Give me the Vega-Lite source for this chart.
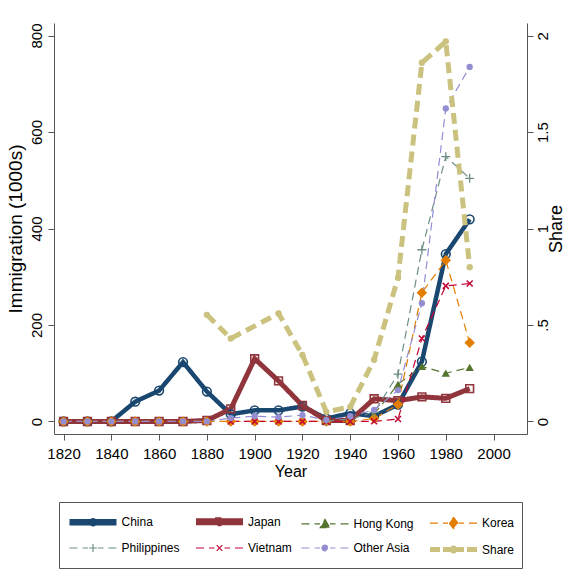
{
  "$schema": "https://vega.github.io/schema/vega-lite/v6.json",
  "width": 473,
  "height": 411,
  "autosize": {"type": "none"},
  "padding": {"left": 54, "top": 23, "right": 46, "bottom": 150},
  "background": "white",
  "config": {
    "font": "Liberation Sans",
    "view": {"stroke": null},
    "axis": {
      "grid": false,
      "domainColor": "#555555",
      "tickColor": "#555555",
      "labelColor": "#000000",
      "titleColor": "#000000",
      "labelFontSize": 15,
      "titleFontSize": 16,
      "titleFontWeight": "normal",
      "tickSize": 6,
      "labelFlush": false,
      "labelOverlap": false
    }
  },
  "data": {
    "values": [
      {"year": 1820, "series": "China", "value": 0},
      {"year": 1830, "series": "China", "value": 0},
      {"year": 1840, "series": "China", "value": 0},
      {"year": 1850, "series": "China", "value": 41},
      {"year": 1860, "series": "China", "value": 64},
      {"year": 1870, "series": "China", "value": 123},
      {"year": 1880, "series": "China", "value": 62},
      {"year": 1890, "series": "China", "value": 15},
      {"year": 1900, "series": "China", "value": 23},
      {"year": 1910, "series": "China", "value": 23},
      {"year": 1920, "series": "China", "value": 31},
      {"year": 1930, "series": "China", "value": 6},
      {"year": 1940, "series": "China", "value": 17},
      {"year": 1950, "series": "China", "value": 11},
      {"year": 1960, "series": "China", "value": 35},
      {"year": 1970, "series": "China", "value": 124},
      {"year": 1980, "series": "China", "value": 347},
      {"year": 1990, "series": "China", "value": 419},
      {"year": 1820, "series": "Japan", "value": 0},
      {"year": 1830, "series": "Japan", "value": 0},
      {"year": 1840, "series": "Japan", "value": 0},
      {"year": 1850, "series": "Japan", "value": 0},
      {"year": 1860, "series": "Japan", "value": 0},
      {"year": 1870, "series": "Japan", "value": 0},
      {"year": 1880, "series": "Japan", "value": 2},
      {"year": 1890, "series": "Japan", "value": 26},
      {"year": 1900, "series": "Japan", "value": 130},
      {"year": 1910, "series": "Japan", "value": 84},
      {"year": 1920, "series": "Japan", "value": 33},
      {"year": 1930, "series": "Japan", "value": 2},
      {"year": 1940, "series": "Japan", "value": 2},
      {"year": 1950, "series": "Japan", "value": 47},
      {"year": 1960, "series": "Japan", "value": 43},
      {"year": 1970, "series": "Japan", "value": 51},
      {"year": 1980, "series": "Japan", "value": 48},
      {"year": 1990, "series": "Japan", "value": 68},
      {"year": 1950, "series": "Hong Kong", "value": 15},
      {"year": 1960, "series": "Hong Kong", "value": 77},
      {"year": 1970, "series": "Hong Kong", "value": 114},
      {"year": 1980, "series": "Hong Kong", "value": 100},
      {"year": 1990, "series": "Hong Kong", "value": 112},
      {"year": 1820, "series": "Korea", "value": 0},
      {"year": 1830, "series": "Korea", "value": 0},
      {"year": 1840, "series": "Korea", "value": 0},
      {"year": 1850, "series": "Korea", "value": 0},
      {"year": 1860, "series": "Korea", "value": 0},
      {"year": 1870, "series": "Korea", "value": 0},
      {"year": 1880, "series": "Korea", "value": 0},
      {"year": 1890, "series": "Korea", "value": 0},
      {"year": 1900, "series": "Korea", "value": 0},
      {"year": 1910, "series": "Korea", "value": 0},
      {"year": 1920, "series": "Korea", "value": 0},
      {"year": 1930, "series": "Korea", "value": 0},
      {"year": 1940, "series": "Korea", "value": 0},
      {"year": 1950, "series": "Korea", "value": 6},
      {"year": 1960, "series": "Korea", "value": 35},
      {"year": 1970, "series": "Korea", "value": 267},
      {"year": 1980, "series": "Korea", "value": 334},
      {"year": 1990, "series": "Korea", "value": 163},
      {"year": 1930, "series": "Philippines", "value": 1},
      {"year": 1940, "series": "Philippines", "value": 5},
      {"year": 1950, "series": "Philippines", "value": 19},
      {"year": 1960, "series": "Philippines", "value": 98},
      {"year": 1970, "series": "Philippines", "value": 356},
      {"year": 1980, "series": "Philippines", "value": 549},
      {"year": 1990, "series": "Philippines", "value": 504},
      {"year": 1890, "series": "Vietnam", "value": 0},
      {"year": 1900, "series": "Vietnam", "value": 0},
      {"year": 1910, "series": "Vietnam", "value": 0},
      {"year": 1920, "series": "Vietnam", "value": 0},
      {"year": 1930, "series": "Vietnam", "value": 0},
      {"year": 1940, "series": "Vietnam", "value": 0},
      {"year": 1950, "series": "Vietnam", "value": 0.3},
      {"year": 1960, "series": "Vietnam", "value": 5},
      {"year": 1970, "series": "Vietnam", "value": 172},
      {"year": 1980, "series": "Vietnam", "value": 281},
      {"year": 1990, "series": "Vietnam", "value": 286},
      {"year": 1820, "series": "Other Asia", "value": 0},
      {"year": 1830, "series": "Other Asia", "value": 0},
      {"year": 1840, "series": "Other Asia", "value": 0},
      {"year": 1850, "series": "Other Asia", "value": 0},
      {"year": 1860, "series": "Other Asia", "value": 0},
      {"year": 1870, "series": "Other Asia", "value": 0},
      {"year": 1880, "series": "Other Asia", "value": 0},
      {"year": 1890, "series": "Other Asia", "value": 7},
      {"year": 1900, "series": "Other Asia", "value": 11},
      {"year": 1910, "series": "Other Asia", "value": 9},
      {"year": 1920, "series": "Other Asia", "value": 13},
      {"year": 1930, "series": "Other Asia", "value": 3},
      {"year": 1940, "series": "Other Asia", "value": 11},
      {"year": 1950, "series": "Other Asia", "value": 24},
      {"year": 1960, "series": "Other Asia", "value": 65},
      {"year": 1970, "series": "Other Asia", "value": 245},
      {"year": 1980, "series": "Other Asia", "value": 649},
      {"year": 1990, "series": "Other Asia", "value": 735},
      {"year": 1880, "series": "Share", "value": 0.553},
      {"year": 1890, "series": "Share", "value": 0.43},
      {"year": 1910, "series": "Share", "value": 0.56},
      {"year": 1920, "series": "Share", "value": 0.345},
      {"year": 1930, "series": "Share", "value": 0.05},
      {"year": 1940, "series": "Share", "value": 0.075},
      {"year": 1950, "series": "Share", "value": 0.32},
      {"year": 1960, "series": "Share", "value": 0.745},
      {"year": 1970, "series": "Share", "value": 1.86},
      {"year": 1980, "series": "Share", "value": 1.97},
      {"year": 1990, "series": "Share", "value": 0.8}
    ]
  },
  "encoding": {
    "x": {
      "field": "year",
      "type": "quantitative",
      "scale": {"domain": [1816, 2014], "nice": false, "zero": false},
      "axis": {
        "title": "Year",
        "values": [1820, 1840, 1860, 1880, 1900, 1920, 1940, 1960, 1980, 2000],
        "format": "d",
        "labelPadding": 6,
        "titlePadding": 2
      }
    },
    "color": {
      "field": "series",
      "type": "nominal",
      "scale": {
        "domain": ["China", "Japan", "Hong Kong", "Korea", "Philippines", "Vietnam", "Other Asia", "Share"],
        "range": ["#1a476f", "#90353b", "#55752f", "#e37e00", "#6e8e84", "#c10534", "#938dd2", "#cac27e"]
      },
      "legend": {
        "title": null,
        "orient": "none",
        "legendX": 5,
        "legendY": 479,
        "direction": "horizontal",
        "columns": 4,
        "symbolSize": 400,
        "symbolStrokeWidth": 1.3,
        "symbolOpacity": 1,
        "symbolOffset": 14.5,
        "labelOffset": 16,
        "columnPadding": 5.5,
        "rowPadding": 3,
        "padding": 7,
        "strokeColor": "#555555",
        "fillColor": "#ffffff",
        "labelFontSize": 12,
        "labelColor": "#000000",
        "labelLimit": 0
      }
    }
  },
  "layer": [
    {
      "transform": [{"filter": "datum.series !== 'Share'"}],
      "encoding": {
        "y": {
          "field": "value",
          "type": "quantitative",
          "scale": {"domain": [-26, 826], "nice": false, "zero": false},
          "axis": {
            "title": "Immigration (1000s)",
            "values": [0, 200, 400, 600, 800],
            "labelAngle": -90,
            "labelPadding": 4,
            "titlePadding": 4,
            "titleFontSize": 19
          }
        }
      },
      "layer": [
        {
          "mark": {"type": "line"},
          "encoding": {
            "strokeDash": {
              "field": "series",
              "type": "nominal",
              "legend": null,
              "scale": {
                "domain": ["China", "Japan", "Hong Kong", "Korea", "Philippines", "Vietnam", "Other Asia", "Share"],
                "range": [[1, 0], [1, 0], [8, 5], [8, 5], [8, 5], [8, 5], [8, 5], [11, 6]]
              }
            },
            "strokeWidth": {
              "field": "series",
              "type": "nominal",
              "legend": null,
              "scale": {
                "type": "ordinal",
                "domain": ["China", "Japan", "Hong Kong", "Korea", "Philippines", "Vietnam", "Other Asia", "Share"],
                "range": [4.5, 5, 1.2, 1.2, 1.2, 1.2, 1.2, 5]
              }
            }
          }
        },
        {
          "transform": [{"filter": "false"}],
          "mark": {"type": "point", "filled": true},
          "encoding": {
            "shape": {
              "field": "series",
              "type": "nominal",
              "scale": {
                "domain": ["China", "Japan", "Hong Kong", "Korea", "Philippines", "Vietnam", "Other Asia", "Share"],
                "range": [
                  "M-2.35,-0.1H2.35M-2.35,0.1H2.35M-0.2,0A0.2,0.2 0 1,1 0.2,0A0.2,0.2 0 1,1 -0.2,0Z",
                  "M-2.35,-0.1H2.35M-2.35,0.1H2.35M-0.2,-0.2H0.2V0.2H-0.2Z",
                  "M-2.35,0H-1.55M-1.05,0H-0.5M0.5,0H1.05M1.55,0H2.35M0,-0.45L0.48,0.38L-0.48,0.38Z",
                  "M-2.35,0H-1.55M-1.05,0H-0.55M0.55,0H1.05M1.55,0H2.35M0,-0.55L0.45,0L0,0.55L-0.45,0Z",
                  "M-2.35,0H-1.55M-1.05,0H-0.5M0.5,0H1.05M1.55,0H2.35M-0.4,0H0.4M0,-0.4V0.4",
                  "M-2.35,0H-1.55M-1.05,0H-0.5M0.5,0H1.05M1.55,0H2.35M-0.28,-0.28L0.28,0.28M-0.28,0.28L0.28,-0.28",
                  "M-2.35,0H-1.55M-1.05,0H-0.5M0.5,0H1.05M1.55,0H2.35M-0.3,0A0.3,0.3 0 1,1 0.3,0A0.3,0.3 0 1,1 -0.3,0Z",
                  "M-2.35,0H-1.35M-1.05,0H-0.35M0.35,0H1.05M1.35,0H2.35M-0.15,0A0.15,0.15 0 1,1 0.15,0A0.15,0.15 0 1,1 -0.15,0Z"
                ]
              }
            }
          }
        },
        {
          "transform": [{"filter": "datum.series === 'China'"}],
          "mark": {"type": "point", "shape": "circle", "filled": false, "size": 75, "strokeWidth": 1.6, "opacity": 1}
        },
        {
          "transform": [{"filter": "datum.series === 'Japan'"}],
          "mark": {"type": "point", "shape": "square", "filled": false, "size": 60, "strokeWidth": 1.6, "opacity": 1}
        },
        {
          "transform": [{"filter": "datum.series === 'Hong Kong'"}],
          "mark": {"type": "point", "shape": "triangle-up", "filled": true, "size": 70, "opacity": 1}
        },
        {
          "transform": [{"filter": "datum.series === 'Korea'"}],
          "mark": {"type": "point", "shape": "diamond", "filled": true, "size": 110, "opacity": 1}
        },
        {
          "transform": [{"filter": "datum.series === 'Philippines'"}],
          "mark": {"type": "point", "shape": "M-1,0H1M0,-1V1", "filled": false, "size": 80, "strokeWidth": 1.3, "opacity": 1}
        },
        {
          "transform": [{"filter": "datum.series === 'Vietnam'"}],
          "mark": {"type": "point", "shape": "M-1,-1L1,1M-1,1L1,-1", "filled": false, "size": 36, "strokeWidth": 1.5, "opacity": 1}
        },
        {
          "transform": [{"filter": "datum.series === 'Other Asia'"}],
          "mark": {"type": "point", "shape": "circle", "filled": true, "size": 40, "opacity": 1}
        }
      ]
    },
    {
      "transform": [{"filter": "datum.series === 'Share'"}],
      "encoding": {
        "y": {
          "field": "value",
          "type": "quantitative",
          "scale": {"domain": [-0.065, 2.066], "nice": false, "zero": false},
          "axis": {
            "title": "Share",
            "orient": "right",
            "values": [0, 0.5, 1, 1.5, 2],
            "labelExpr": "datum.value == 0.5 ? '.5' : format(datum.value, '~g')",
            "labelAngle": -90,
            "labelPadding": 2,
            "titleAngle": -90,
            "titleBaseline": "top",
            "titlePadding": -3,
            "titleFontSize": 18
          }
        }
      },
      "layer": [
        {
          "mark": {"type": "line"},
          "encoding": {
            "strokeDash": {
              "field": "series",
              "type": "nominal",
              "legend": null,
              "scale": {
                "domain": ["China", "Japan", "Hong Kong", "Korea", "Philippines", "Vietnam", "Other Asia", "Share"],
                "range": [[1, 0], [1, 0], [8, 5], [8, 5], [8, 5], [8, 5], [8, 5], [11, 6]]
              }
            },
            "strokeWidth": {
              "field": "series",
              "type": "nominal",
              "legend": null,
              "scale": {
                "type": "ordinal",
                "domain": ["China", "Japan", "Hong Kong", "Korea", "Philippines", "Vietnam", "Other Asia", "Share"],
                "range": [4.5, 5, 1.2, 1.2, 1.2, 1.2, 1.2, 5]
              }
            }
          }
        },
        {
          "mark": {"type": "point", "shape": "circle", "filled": true, "size": 40, "opacity": 1}
        }
      ]
    }
  ],
  "resolve": {"scale": {"y": "independent"}}
}
